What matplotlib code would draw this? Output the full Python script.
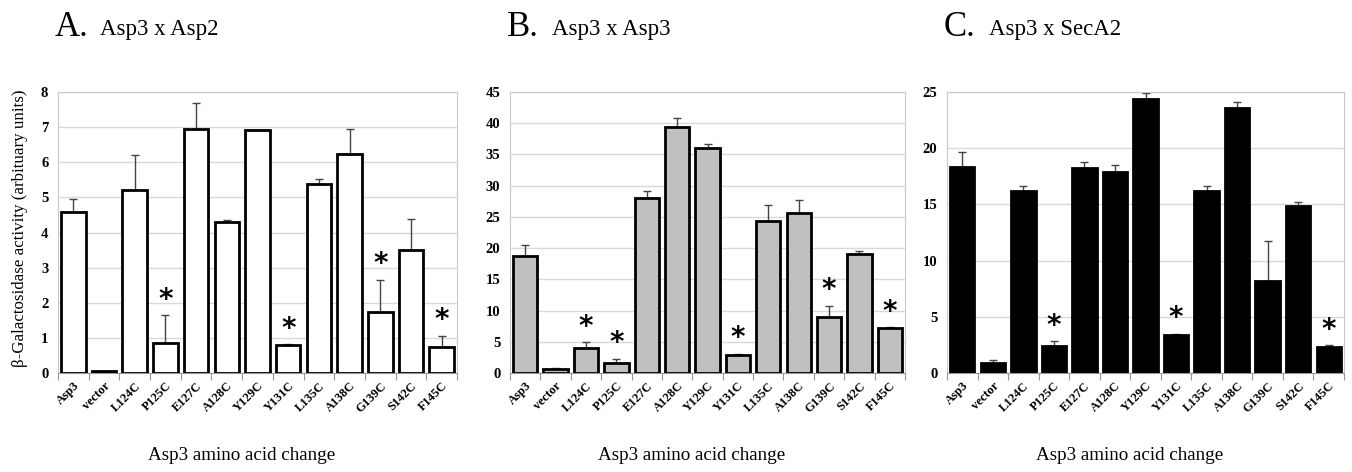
import numpy as np
import matplotlib.pyplot as plt

plt.rcParams['font.family'] = ['Liberation Serif', 'DejaVu Serif']

labels = ['Asp3', 'vector', 'L124C', 'P125C', 'E127C', 'A128C', 'Y129C',
          'Y131C', 'L135C', 'A138C', 'G139C', 'S142C', 'F145C']

# panel A: Asp3 x Asp2
vals_a = [4.58, 0.05, 5.22, 0.86, 6.94, 4.30, 6.91, 0.79, 5.39, 6.24, 1.74, 3.49, 0.75]
err_a = [0.36, 0.02, 0.98, 0.78, 0.74, 0.05, 0.0, 0.03, 0.14, 0.70, 0.92, 0.90, 0.31]
stars_a = ['P125C', 'Y131C', 'G139C', 'F145C']

# panel B: Asp3 x Asp3
vals_b = [18.7, 0.65, 4.04, 1.62, 28.0, 39.4, 36.0, 2.96, 24.4, 25.7, 8.9, 19.1, 7.17]
err_b = [1.8, 0.15, 0.92, 0.64, 1.1, 1.5, 0.6, 0.15, 2.5, 2.0, 1.9, 0.5, 0.13]
stars_b = ['L124C', 'P125C', 'Y131C', 'G139C', 'F145C']

# panel C: Asp3 x SecA2
vals_c = [18.37, 0.9, 16.2, 2.39, 18.2, 17.9, 24.4, 3.35, 16.2, 23.6, 8.2, 14.9, 2.3]
err_c = [1.33, 0.23, 0.4, 0.45, 0.6, 0.6, 0.5, 0.15, 0.4, 0.5, 3.5, 0.3, 0.15]
stars_c = ['P125C', 'Y131C', 'F145C']

panels = [
    ('A.', 'Asp3 x Asp2', vals_a, err_a, stars_a, 'white', 8, 1),
    ('B.', 'Asp3 x Asp3', vals_b, err_b, stars_b, '#c0c0c0', 45, 5),
    ('C.', 'Asp3 x SecA2', vals_c, err_c, stars_c, 'black', 25, 5),
]

W, H = 1352, 472
fig = plt.figure(figsize=(W / 100, H / 100), dpi=100)

# axes boxes in pixels: left, right
boxes = [(58, 457), (510, 905), (947, 1344)]
top_px, bot_px = 92, 373

x = np.arange(len(labels))
for (letter, name, vals, errs, stars, fc, ymax, step), (l, r) in zip(panels, boxes):
    ax = fig.add_axes([l / W, 1 - bot_px / H, (r - l) / W, (bot_px - top_px) / H])
    ax.bar(x, vals, width=0.8, color=fc, edgecolor='black', linewidth=2, zorder=3)
    ax.errorbar(x, vals, yerr=[np.zeros(len(errs)), errs], fmt='none',
                ecolor='#444444', elinewidth=1, capsize=3, capthick=1, zorder=2)
    for s in stars:
        i = labels.index(s)
        ax.text(i, vals[i] + errs[i] + 0.055 * ymax, '*', ha='center', va='center',
                fontsize=20, fontweight='bold', family='DejaVu Sans', zorder=4)
    ax.set_xlim(-0.5, len(labels) - 0.5)
    ax.set_ylim(0, ymax)
    ax.set_yticks(np.arange(0, ymax + 0.01, step))
    ax.yaxis.grid(True, color='#d9d9d9', linewidth=1, zorder=0)
    ax.set_axisbelow(True)
    for sp in ax.spines.values():
        sp.set_color('#c8c8c8')
    ax.spines['bottom'].set_color('#999999')
    ax.tick_params(axis='y', length=0, labelsize=10.5, pad=7)
    for t in ax.get_yticklabels():
        t.set_fontweight('bold')
    ax.set_xticks(np.arange(-0.5, len(labels)), minor=False)
    ax.set_xticklabels([])
    ax.tick_params(axis='x', which='major', length=5, color='#999999', direction='out')
    ax.set_xticks(x, minor=True)
    ax.set_xticklabels(labels, minor=True, rotation=45, ha='right', rotation_mode='anchor',
                       fontsize=9, fontweight='bold')
    ax.tick_params(axis='x', which='minor', length=0, pad=5)

    fig.text((l - 3) / W, 1 - 27 / H, letter, fontsize=25, ha='left', va='center')
    fig.text((l + 42) / W, 1 - 30 / H, name, fontsize=16.5, ha='left', va='center')
    fig.text(((l + r) / 2 - 16) / W, 1 - 455 / H, 'Asp3 amino acid change',
             fontsize=13.7, ha='center', va='center')

fig.text(20 / W, 1 - 228 / H, 'β-Galactosidase activity (arbituary units)',
         rotation=90, fontsize=12.2, ha='center', va='center')

fig.savefig('out.png', dpi=100)
